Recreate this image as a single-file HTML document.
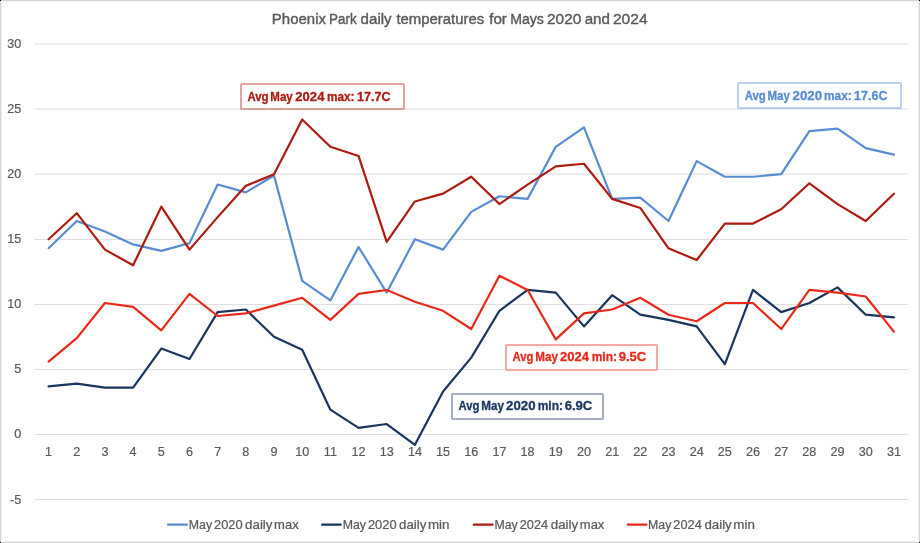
<!DOCTYPE html>
<html lang="en">
<head>
<meta charset="utf-8">
<title>Phoenix Park daily temperatures for Mays 2020 and 2024</title>
<style>
html,body{margin:0;padding:0;background:#fff;}
body{width:920px;height:543px;overflow:hidden;}
svg{display:block;font-family:"Liberation Sans",sans-serif;will-change:transform;transform:translateZ(0);}
.ax{font-size:12.6px;fill:#595959;stroke:#595959;stroke-width:0.2px;}
.lg{font-size:12.4px;fill:#595959;}
.ttl{font-size:15.2px;fill:#595959;}
.an{font-size:12.6px;font-weight:bold;}
</style>
</head>
<body>
<svg width="920" height="543" viewBox="0 0 920 543">
<rect x="0" y="0" width="920" height="543" fill="#ffffff"/>

<!-- outer frame -->
<rect x="0.5" y="0.5" width="919" height="542" fill="none" stroke="#d4d4d4" stroke-width="1"/>
<rect x="1.5" y="1.5" width="917" height="540" fill="none" stroke="#f2f2f2" stroke-width="1"/>
<rect x="0" y="0" width="1" height="1" fill="#000"/>
<rect x="919" y="0" width="1" height="1" fill="#000"/>
<rect x="0" y="542" width="1" height="1" fill="#000"/>
<rect x="919" y="542" width="1" height="1" fill="#000"/>
<!-- gridlines -->
<rect x="34.4" y="43" width="873.6" height="2" fill="#eeeeee"/>
<rect x="34.4" y="108" width="873.6" height="2" fill="#eeeeee"/>
<rect x="34.4" y="173" width="873.6" height="2" fill="#eeeeee"/>
<rect x="34.4" y="239" width="873.6" height="1" fill="#e0e0e0"/>
<rect x="34.4" y="304" width="873.6" height="1" fill="#e0e0e0"/>
<rect x="34.4" y="369" width="873.6" height="1" fill="#e0e0e0"/>
<rect x="34.4" y="434" width="873.6" height="1" fill="#e0e0e0"/>
<rect x="34.4" y="499" width="873.6" height="1" fill="#e0e0e0"/>
<!-- y axis labels -->
<text class="ax" x="21.2" y="47.91" text-anchor="end">30</text>
<text class="ax" x="21.2" y="112.98" text-anchor="end">25</text>
<text class="ax" x="21.2" y="178.05" text-anchor="end">20</text>
<text class="ax" x="21.2" y="243.12" text-anchor="end">15</text>
<text class="ax" x="21.2" y="308.19" text-anchor="end">10</text>
<text class="ax" x="21.2" y="373.26" text-anchor="end">5</text>
<text class="ax" x="21.2" y="438.33" text-anchor="end">0</text>
<text class="ax" x="21.2" y="504.00" text-anchor="end">-5</text>
<!-- x axis labels -->
<text class="ax" x="48.59" y="456" text-anchor="middle">1</text>
<text class="ax" x="76.77" y="456" text-anchor="middle">2</text>
<text class="ax" x="104.94" y="456" text-anchor="middle">3</text>
<text class="ax" x="133.12" y="456" text-anchor="middle">4</text>
<text class="ax" x="161.30" y="456" text-anchor="middle">5</text>
<text class="ax" x="189.48" y="456" text-anchor="middle">6</text>
<text class="ax" x="217.65" y="456" text-anchor="middle">7</text>
<text class="ax" x="245.83" y="456" text-anchor="middle">8</text>
<text class="ax" x="274.01" y="456" text-anchor="middle">9</text>
<text class="ax" x="302.19" y="456" text-anchor="middle">10</text>
<text class="ax" x="330.36" y="456" text-anchor="middle">11</text>
<text class="ax" x="358.54" y="456" text-anchor="middle">12</text>
<text class="ax" x="386.72" y="456" text-anchor="middle">13</text>
<text class="ax" x="414.90" y="456" text-anchor="middle">14</text>
<text class="ax" x="443.07" y="456" text-anchor="middle">15</text>
<text class="ax" x="471.25" y="456" text-anchor="middle">16</text>
<text class="ax" x="499.43" y="456" text-anchor="middle">17</text>
<text class="ax" x="527.60" y="456" text-anchor="middle">18</text>
<text class="ax" x="555.78" y="456" text-anchor="middle">19</text>
<text class="ax" x="583.96" y="456" text-anchor="middle">20</text>
<text class="ax" x="612.14" y="456" text-anchor="middle">21</text>
<text class="ax" x="640.31" y="456" text-anchor="middle">22</text>
<text class="ax" x="668.49" y="456" text-anchor="middle">23</text>
<text class="ax" x="696.67" y="456" text-anchor="middle">24</text>
<text class="ax" x="724.85" y="456" text-anchor="middle">25</text>
<text class="ax" x="753.02" y="456" text-anchor="middle">26</text>
<text class="ax" x="781.20" y="456" text-anchor="middle">27</text>
<text class="ax" x="809.38" y="456" text-anchor="middle">28</text>
<text class="ax" x="837.56" y="456" text-anchor="middle">29</text>
<text class="ax" x="865.73" y="456" text-anchor="middle">30</text>
<text class="ax" x="893.91" y="456" text-anchor="middle">31</text>
<!-- series -->
<polyline points="48.59,248.33 76.77,221.00 104.94,231.41 133.12,244.43 161.30,250.93 189.48,243.12 217.65,184.56 245.83,192.37 274.01,175.45 302.19,280.86 330.36,300.39 358.54,247.03 386.72,292.58 414.90,239.22 443.07,249.63 471.25,211.89 499.43,196.27 527.60,198.88 555.78,146.82 583.96,127.30 612.14,198.88 640.31,197.58 668.49,221.00 696.67,161.14 724.85,176.75 753.02,176.75 781.20,174.15 809.38,131.20 837.56,128.60 865.73,148.12 893.91,154.63" fill="none" stroke="#578dd0" stroke-width="2.2" stroke-linejoin="round" stroke-linecap="round"/>
<polyline points="48.59,386.28 76.77,383.68 104.94,387.58 133.12,387.58 161.30,348.54 189.48,358.95 217.65,312.10 245.83,309.50 274.01,336.83 302.19,349.84 330.36,409.70 358.54,427.92 386.72,424.02 414.90,444.84 443.07,391.48 471.25,357.65 499.43,310.80 527.60,289.97 555.78,292.58 583.96,326.41 612.14,295.18 640.31,314.70 668.49,319.91 696.67,326.41 724.85,364.15 753.02,289.97 781.20,312.10 809.38,302.99 837.56,287.37 865.73,314.70 893.91,317.30" fill="none" stroke="#18355e" stroke-width="2.2" stroke-linejoin="round" stroke-linecap="round"/>
<polyline points="48.59,239.22 76.77,213.19 104.94,249.63 133.12,265.25 161.30,206.69 189.48,249.63 217.65,217.10 245.83,185.86 274.01,174.15 302.19,119.49 330.36,146.82 358.54,155.93 386.72,241.82 414.90,201.48 443.07,193.67 471.25,176.75 499.43,204.08 527.60,184.56 555.78,166.34 583.96,163.74 612.14,198.88 640.31,207.99 668.49,248.33 696.67,260.04 724.85,223.60 753.02,223.60 781.20,209.29 809.38,183.26 837.56,204.08 865.73,221.00 893.91,193.67" fill="none" stroke="#ad1b11" stroke-width="2.2" stroke-linejoin="round" stroke-linecap="round"/>
<polyline points="48.59,361.55 76.77,338.13 104.94,302.99 133.12,306.89 161.30,330.32 189.48,293.88 217.65,316.00 245.83,313.40 274.01,305.59 302.19,297.78 330.36,319.91 358.54,293.88 386.72,289.97 414.90,301.69 443.07,310.80 471.25,329.02 499.43,275.66 527.60,289.97 555.78,339.43 583.96,313.40 612.14,309.50 640.31,297.78 668.49,314.70 696.67,321.21 724.85,302.99 753.02,302.99 781.20,329.02 809.38,289.97 837.56,292.58 865.73,296.48 893.91,331.62" fill="none" stroke="#e8291a" stroke-width="2.2" stroke-linejoin="round" stroke-linecap="round"/>
<!-- annotations -->
<rect x="241.00" y="84.00" width="163.00" height="25.00" rx="0.8" fill="#ffffff" stroke="#ad1b11" stroke-opacity="0.4" stroke-width="2"/>
<rect x="738.00" y="83.00" width="163.00" height="25.00" rx="0.8" fill="#ffffff" stroke="#578dd0" stroke-opacity="0.4" stroke-width="2"/>
<rect x="506.00" y="345.00" width="151.00" height="25.00" rx="0.8" fill="#ffffff" stroke="#e8291a" stroke-opacity="0.4" stroke-width="2"/>
<rect x="452.00" y="394.00" width="151.00" height="25.00" rx="0.8" fill="#ffffff" stroke="#18355e" stroke-opacity="0.4" stroke-width="2"/>
<!-- legend -->
<line x1="168.00" y1="524.65" x2="187.00" y2="524.65" stroke="#578dd0" stroke-width="2.1" stroke-linecap="round"/>
<line x1="322.10" y1="524.65" x2="340.80" y2="524.65" stroke="#18355e" stroke-width="2.1" stroke-linecap="round"/>
<line x1="473.70" y1="524.65" x2="492.70" y2="524.65" stroke="#ad1b11" stroke-width="2.1" stroke-linecap="round"/>
<line x1="627.80" y1="524.65" x2="646.50" y2="524.65" stroke="#e8291a" stroke-width="2.1" stroke-linecap="round"/>
<!-- text (placed per word) -->
<text x="271.86" y="24.30" font-size="15.5" fill="#595959" stroke="#595959" stroke-width="0.4" textLength="54.08" lengthAdjust="spacingAndGlyphs">Phoenix</text>
<text x="329.09" y="24.30" font-size="15.5" fill="#595959" stroke="#595959" stroke-width="0.4" textLength="27.66" lengthAdjust="spacingAndGlyphs">Park</text>
<text x="360.61" y="24.30" font-size="15.5" fill="#595959" stroke="#595959" stroke-width="0.4" textLength="31.03" lengthAdjust="spacingAndGlyphs">daily</text>
<text x="396.46" y="24.30" font-size="15.5" fill="#595959" stroke="#595959" stroke-width="0.4" textLength="87.72" lengthAdjust="spacingAndGlyphs">temperatures</text>
<text x="489.17" y="24.30" font-size="15.5" fill="#595959" stroke="#595959" stroke-width="0.4" textLength="17.75" lengthAdjust="spacingAndGlyphs">for</text>
<text x="510.13" y="24.30" font-size="15.5" fill="#595959" stroke="#595959" stroke-width="0.4" textLength="33.77" lengthAdjust="spacingAndGlyphs">Mays</text>
<text x="547.02" y="24.30" font-size="15.5" fill="#595959" stroke="#595959" stroke-width="0.4" textLength="34.26" lengthAdjust="spacingAndGlyphs">2020</text>
<text x="584.70" y="24.30" font-size="15.5" fill="#595959" stroke="#595959" stroke-width="0.4" textLength="25.23" lengthAdjust="spacingAndGlyphs">and</text>
<text x="612.91" y="24.30" font-size="15.5" fill="#595959" stroke="#595959" stroke-width="0.4" textLength="34.77" lengthAdjust="spacingAndGlyphs">2024</text>
<text x="247.45" y="100.70" font-size="12.6" font-weight="bold" fill="#ad1b11" stroke="#ad1b11" stroke-width="0.3" textLength="21.15" lengthAdjust="spacingAndGlyphs">Avg</text>
<text x="270.33" y="100.70" font-size="12.6" font-weight="bold" fill="#ad1b11" stroke="#ad1b11" stroke-width="0.3" textLength="22.39" lengthAdjust="spacingAndGlyphs">May</text>
<text x="295.34" y="100.70" font-size="12.6" font-weight="bold" fill="#ad1b11" stroke="#ad1b11" stroke-width="0.3" textLength="29.08" lengthAdjust="spacingAndGlyphs">2024</text>
<text x="326.90" y="100.70" font-size="12.6" font-weight="bold" fill="#ad1b11" stroke="#ad1b11" stroke-width="0.3" textLength="27.60" lengthAdjust="spacingAndGlyphs">max:</text>
<text x="356.91" y="100.70" font-size="12.6" font-weight="bold" fill="#ad1b11" stroke="#ad1b11" stroke-width="0.3" textLength="33.56" lengthAdjust="spacingAndGlyphs">17.7C</text>
<text x="744.65" y="99.70" font-size="12.6" font-weight="bold" fill="#578dd0" stroke="#578dd0" stroke-width="0.3" textLength="21.15" lengthAdjust="spacingAndGlyphs">Avg</text>
<text x="767.53" y="99.70" font-size="12.6" font-weight="bold" fill="#578dd0" stroke="#578dd0" stroke-width="0.3" textLength="22.39" lengthAdjust="spacingAndGlyphs">May</text>
<text x="792.53" y="99.70" font-size="12.6" font-weight="bold" fill="#578dd0" stroke="#578dd0" stroke-width="0.3" textLength="29.58" lengthAdjust="spacingAndGlyphs">2020</text>
<text x="824.10" y="99.70" font-size="12.6" font-weight="bold" fill="#578dd0" stroke="#578dd0" stroke-width="0.3" textLength="27.60" lengthAdjust="spacingAndGlyphs">max:</text>
<text x="854.11" y="99.70" font-size="12.6" font-weight="bold" fill="#578dd0" stroke="#578dd0" stroke-width="0.3" textLength="33.56" lengthAdjust="spacingAndGlyphs">17.6C</text>
<text x="512.55" y="361.40" font-size="12.6" font-weight="bold" fill="#e8291a" stroke="#e8291a" stroke-width="0.3" textLength="20.94" lengthAdjust="spacingAndGlyphs">Avg</text>
<text x="535.22" y="361.40" font-size="12.6" font-weight="bold" fill="#e8291a" stroke="#e8291a" stroke-width="0.3" textLength="22.70" lengthAdjust="spacingAndGlyphs">May</text>
<text x="560.14" y="361.40" font-size="12.6" font-weight="bold" fill="#e8291a" stroke="#e8291a" stroke-width="0.3" textLength="28.98" lengthAdjust="spacingAndGlyphs">2024</text>
<text x="591.68" y="361.40" font-size="12.6" font-weight="bold" fill="#e8291a" stroke="#e8291a" stroke-width="0.3" textLength="25.38" lengthAdjust="spacingAndGlyphs">min:</text>
<text x="618.70" y="361.40" font-size="12.6" font-weight="bold" fill="#e8291a" stroke="#e8291a" stroke-width="0.3" textLength="27.59" lengthAdjust="spacingAndGlyphs">9.5C</text>
<text x="458.55" y="410.30" font-size="12.6" font-weight="bold" fill="#18355e" stroke="#18355e" stroke-width="0.3" textLength="20.94" lengthAdjust="spacingAndGlyphs">Avg</text>
<text x="481.22" y="410.30" font-size="12.6" font-weight="bold" fill="#18355e" stroke="#18355e" stroke-width="0.3" textLength="22.70" lengthAdjust="spacingAndGlyphs">May</text>
<text x="506.13" y="410.30" font-size="12.6" font-weight="bold" fill="#18355e" stroke="#18355e" stroke-width="0.3" textLength="29.48" lengthAdjust="spacingAndGlyphs">2020</text>
<text x="537.68" y="410.30" font-size="12.6" font-weight="bold" fill="#18355e" stroke="#18355e" stroke-width="0.3" textLength="25.38" lengthAdjust="spacingAndGlyphs">min:</text>
<text x="564.66" y="410.30" font-size="12.6" font-weight="bold" fill="#18355e" stroke="#18355e" stroke-width="0.3" textLength="27.62" lengthAdjust="spacingAndGlyphs">6.9C</text>
<text x="188.79" y="529.00" font-size="12.4" fill="#595959" stroke="#595959" stroke-width="0.22" textLength="23.29" lengthAdjust="spacingAndGlyphs">May</text>
<text x="214.03" y="529.00" font-size="12.4" fill="#595959" stroke="#595959" stroke-width="0.22" textLength="28.63" lengthAdjust="spacingAndGlyphs">2020</text>
<text x="245.12" y="529.00" font-size="12.4" fill="#595959" stroke="#595959" stroke-width="0.22" textLength="27.34" lengthAdjust="spacingAndGlyphs">daily</text>
<text x="274.11" y="529.00" font-size="12.4" fill="#595959" stroke="#595959" stroke-width="0.22" textLength="24.58" lengthAdjust="spacingAndGlyphs">max</text>
<text x="342.69" y="529.00" font-size="12.4" fill="#595959" stroke="#595959" stroke-width="0.22" textLength="23.29" lengthAdjust="spacingAndGlyphs">May</text>
<text x="367.93" y="529.00" font-size="12.4" fill="#595959" stroke="#595959" stroke-width="0.22" textLength="28.63" lengthAdjust="spacingAndGlyphs">2020</text>
<text x="399.02" y="529.00" font-size="12.4" fill="#595959" stroke="#595959" stroke-width="0.22" textLength="27.34" lengthAdjust="spacingAndGlyphs">daily</text>
<text x="427.98" y="529.00" font-size="12.4" fill="#595959" stroke="#595959" stroke-width="0.22" textLength="21.56" lengthAdjust="spacingAndGlyphs">min</text>
<text x="494.49" y="529.00" font-size="12.4" fill="#595959" stroke="#595959" stroke-width="0.22" textLength="23.29" lengthAdjust="spacingAndGlyphs">May</text>
<text x="519.74" y="529.00" font-size="12.4" fill="#595959" stroke="#595959" stroke-width="0.22" textLength="28.47" lengthAdjust="spacingAndGlyphs">2024</text>
<text x="550.82" y="529.00" font-size="12.4" fill="#595959" stroke="#595959" stroke-width="0.22" textLength="27.34" lengthAdjust="spacingAndGlyphs">daily</text>
<text x="579.81" y="529.00" font-size="12.4" fill="#595959" stroke="#595959" stroke-width="0.22" textLength="24.58" lengthAdjust="spacingAndGlyphs">max</text>
<text x="648.09" y="529.00" font-size="12.4" fill="#595959" stroke="#595959" stroke-width="0.22" textLength="23.29" lengthAdjust="spacingAndGlyphs">May</text>
<text x="673.34" y="529.00" font-size="12.4" fill="#595959" stroke="#595959" stroke-width="0.22" textLength="28.47" lengthAdjust="spacingAndGlyphs">2024</text>
<text x="704.42" y="529.00" font-size="12.4" fill="#595959" stroke="#595959" stroke-width="0.22" textLength="27.34" lengthAdjust="spacingAndGlyphs">daily</text>
<text x="733.38" y="529.00" font-size="12.4" fill="#595959" stroke="#595959" stroke-width="0.22" textLength="21.56" lengthAdjust="spacingAndGlyphs">min</text>
</svg>
</body>
</html>
